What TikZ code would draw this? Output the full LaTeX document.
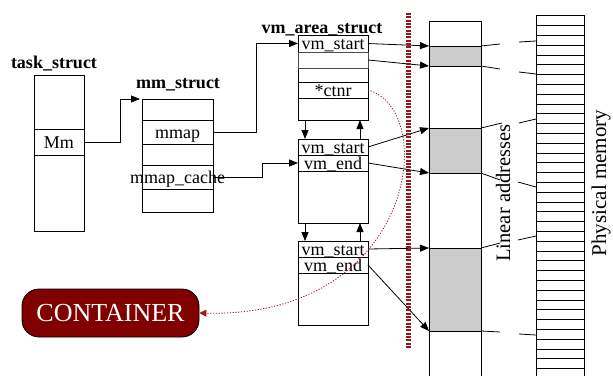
\documentclass[tikz,border=0pt]{standalone}
\usepackage{fontspec}
\setmainfont{Liberation Serif}
\usetikzlibrary{arrows.meta,calc}
\definecolor{boxred}{HTML}{800000}
\definecolor{dashred}{HTML}{951515}
\definecolor{dotred}{HTML}{A01818}
\definecolor{memgray}{HTML}{CBCBCB}
\tikzset{
  box/.style={draw=black, line width=0.9pt, inner sep=0pt, outer sep=0pt, anchor=north west},
  cell/.style={box, font=\fontsize{18}{20}\selectfont, text height=12pt, text depth=0pt},
  title/.style={font=\fontsize{18}{20}\selectfont\bfseries, anchor=base, inner sep=0pt},
  sidelabel/.style={rotate=90, inner sep=0pt},
  arr/.style={line width=0.8pt, -{Triangle[length=9pt,width=7pt]}},
  conn/.style={line width=0.8pt},
  grayblock/.style={box, fill=memgray},
}
\begin{document}
\begin{tikzpicture}[x=1pt,y=-1pt]
\useasboundingbox (0,0) rectangle (613,375);
\clip (0,0) rectangle (613,375);

% task_struct
\node[title] (tasklbl) at (54,68) {task\_struct};
\node[box, minimum width=50pt, minimum height=156pt] (task) at (34,75) {};
\node[cell, minimum width=50pt, minimum height=26pt] (mm) at (34,129) {Mm};

% mm_struct
\node[title] (mmlbl) at (178,88) {mm\_struct};
\node[box, minimum width=71pt, minimum height=113pt] (mmbox) at (142,99) {};
\node[cell, minimum width=71pt, minimum height=24pt] (mmap) at (142,120) {mmap};
\node[cell, minimum width=71pt, minimum height=24pt] (mmc) at (142,165) {\makebox[0pt]{mmap\_cache}};

% vm_area_struct boxes
\node[title] (vmlbl) at (322,33) {vm\_area\_struct};
\node[box, minimum width=70pt, minimum height=85pt] (b1) at (298,35) {};
\node[cell, minimum width=70pt, minimum height=17pt] (vs1) at (298,35) {vm\_start};
\node[cell, minimum width=70pt, minimum height=16pt, draw=black!70, line width=0.6pt] (r12) at (298,52) {};
\node[cell, minimum width=70pt, minimum height=16pt] (ctnr) at (298,82) {*ctnr};

\node[box, minimum width=70pt, minimum height=84pt] (b2) at (298,139) {};
\node[cell, minimum width=70pt, minimum height=16pt] (vs2) at (298,139) {vm\_start};
\node[cell, minimum width=70pt, minimum height=16pt] (ve2) at (298,155) {vm\_end};

\node[box, minimum width=70pt, minimum height=84pt] (b3) at (298,241) {};
\node[cell, minimum width=70pt, minimum height=16pt] (vs3) at (298,241) {vm\_start};
\node[cell, minimum width=70pt, minimum height=16pt] (ve3) at (298,257) {vm\_end};

% linear addresses column
\node[box, minimum width=52pt, minimum height=370pt] (lin) at (429,21.7) {};
\node[grayblock, minimum width=52pt, minimum height=20pt] (g1) at (429,46) {};
\node[grayblock, minimum width=52pt, minimum height=45pt] (g2) at (429,128) {};
\node[grayblock, minimum width=52pt, minimum height=83pt] (g3) at (429,248) {};

% physical memory
\node[box, minimum width=48pt, minimum height=370pt] (phys) at (536,15.7) {};
\foreach \k in {1,...,37} {
  \draw[line width=0.8pt] (536,15.7+9.8*\k) -- (584,15.7+9.8*\k);
}

% connectors task -> mm -> vm
\draw[arr] (mm.east) -| ([xshift=-22pt]mmbox.north west) -- ([xshift=-2pt]mmbox.north west);
\draw[arr] (mmap.east) -| ([xshift=-42pt]vs1.west) -- (vs1.west);
\draw[arr] (mmc.east) -| ([xshift=-36pt]ve2.west) -- (ve2.west);

% links between vm boxes
\draw[arr] ([xshift=7pt]b1.south west) -- ([xshift=7pt]b2.north west);
\draw[arr] ([xshift=-8pt]b2.north east) -- ([xshift=-8pt]b1.south east);
\draw[arr] ([xshift=7pt]b2.south west) -- ([xshift=7pt]b3.north west);
\draw[arr] ([xshift=-8pt]b3.north east) -- ([xshift=-8pt]b2.south east);

% vm -> linear
\draw[arr] (vs1.east) -- (g1.north west);
\draw[arr] (r12.east) -- (g1.south west);
\draw[arr] (vs2.east) -- (g2.north west);
\draw[arr] (ve2.east) -- (g2.south west);
\draw[arr] (vs3.east) -- (g3.north west);
\draw[arr] (ve3.east) -- (g3.south west);

% linear -> physical ticks
\draw[conn] (g1.north east) -- (500,44);  \draw[conn] (519,42) -- (phys.west |- 0,41);
\draw[conn] (g1.south east) -- (500,69);  \draw[conn] (519,72) -- (phys.west |- 0,74);
\draw[conn] (g2.north east) -- (502,123); \draw[conn] (519,123) -- (phys.west |- 0,119);
\draw[conn] (g2.south east) -- (500,180); \draw[conn] (518,182) -- (phys.west |- 0,187);
\draw[conn] (g3.north east) -- (500,243); \draw[conn] (518,240) -- (phys.west |- 0,236);
\draw[conn] (g3.south east) -- (500,332); \draw[conn] (519,334) -- (phys.west |- 0,335);

% side labels
\node[sidelabel, font=\fontsize{20.5}{22}\selectfont] (linlbl) at (503,193) {Linear addresses};
\node[sidelabel, font=\fontsize{21}{23}\selectfont] (physlbl) at (601,183) {Physical memory};

% red separator
\draw[dashred, line width=4.5pt, dash pattern=on 2pt off 1.33pt] (408.5,13) -- (408.5,348);

% container
\node[draw=black, line width=0.8pt, fill=boxred, text=white, rounded corners=17pt,
      minimum width=177pt, minimum height=48pt, inner sep=0pt,
      font=\fontsize{26}{28}\selectfont] (cont) at (110.5,313) {CONTAINER};
\draw[dotred, line width=0.8pt, dash pattern=on 1.2pt off 1.6pt,
      -{Triangle[length=7pt,width=7pt]}]
  (ctnr.east) .. controls (440,110) and (415,318) .. (cont.east);
\end{tikzpicture}
\end{document}
